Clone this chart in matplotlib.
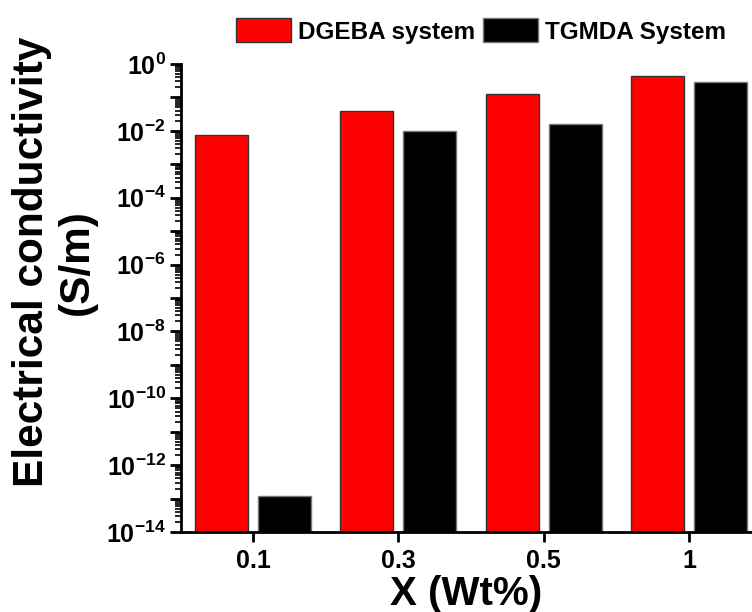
import matplotlib
matplotlib.use("Agg")
import matplotlib.pyplot as plt
import numpy as np
from matplotlib.ticker import LogLocator, FuncFormatter, NullFormatter

plt.rcParams['font.family'] = ['Liberation Sans', 'DejaVu Sans']
plt.rcParams['font.weight'] = 'bold'
plt.rcParams['mathtext.fontset'] = 'custom'
plt.rcParams['mathtext.rm'] = 'Liberation Sans:bold'
plt.rcParams['mathtext.bf'] = 'Liberation Sans:bold'
plt.rcParams['mathtext.it'] = 'Liberation Sans:bold'
plt.rcParams['mathtext.default'] = 'rm'

categories = ['0.1', '0.3', '0.5', '1']
dgeba = [7.5e-3, 0.040, 0.13, 0.44]
tgmda = [1.1e-13, 0.010, 0.016, 0.29]
series_names = ['DGEBA system', 'TGMDA System']

fig = plt.figure(figsize=(7.52, 6.12), dpi=100)
ax = fig.add_axes([181/752, 1-532/612, 1-181/752, (532-64)/612])

x = np.arange(len(categories))
w = 0.365
off = 0.217
b1 = ax.bar(x - off, dgeba, w, color='#FF0000', edgecolor='#333333', linewidth=1.0,
            label=series_names[0], bottom=1e-14)
b2 = ax.bar(x + off, tgmda, w, color='#000000', edgecolor='#777777', linewidth=1.0,
            label=series_names[1], bottom=1e-14)

ax.set_yscale('log')
ax.set_ylim(1e-14, 1)
ax.set_xlim(-0.497, 3.434)

ax.yaxis.set_major_locator(LogLocator(base=10, numticks=30))
def fmt(v, pos):
    e = int(round(np.log10(v)))
    if e % 2 == 0:
        return r'$\mathbf{10^{%d}}$' % e
    return ''
ax.yaxis.set_major_formatter(FuncFormatter(fmt))
ax.yaxis.set_minor_locator(LogLocator(base=10, subs=np.arange(2, 10), numticks=30))
ax.yaxis.set_minor_formatter(NullFormatter())

ax.set_xticks(x)
ax.set_xticklabels(categories)

for s in ['top', 'right']:
    ax.spines[s].set_visible(False)
for s in ['left', 'bottom']:
    ax.spines[s].set_linewidth(2)

ax.tick_params(axis='both', which='major', direction='out', length=8, width=2, labelsize=18)
ax.tick_params(axis='x', which='major', length=7, pad=5)
ax.tick_params(axis='y', which='minor', direction='out', length=4, width=1.2)
ax.tick_params(axis='y', which='major', pad=3)

ax.set_xlabel('X (Wt%)', fontsize=29, fontweight='bold', labelpad=2)
ax.set_ylabel('Electrical conductivity\n(S/m)', fontsize=30.5, fontweight='bold', linespacing=1.17)
ax.yaxis.set_label_coords(-0.147, 0.577)

fig.legend(handles=[b1, b2], labels=series_names, loc='center',
           bbox_to_anchor=(481/752, 1-31/612), ncol=2, frameon=False,
           fontsize=17.5, handlelength=2.26, handleheight=1.15,
           handletextpad=0.3, columnspacing=0.3, borderpad=0, borderaxespad=0)

fig.savefig('out.png', dpi=100)
